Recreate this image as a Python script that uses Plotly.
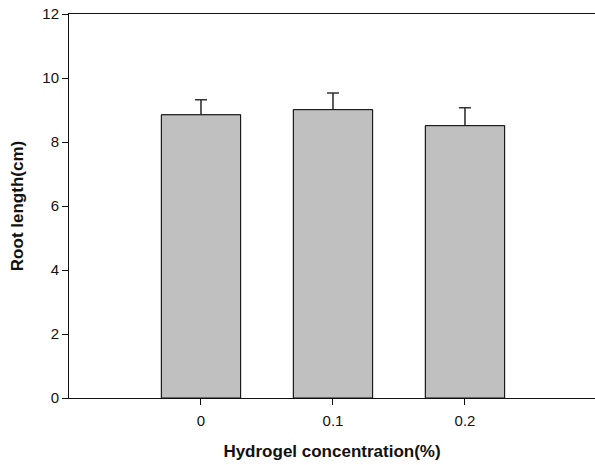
import plotly.graph_objects as go

# Root length by hydrogel concentration
concentrations = [0, 0.1, 0.2]
tick_labels = ["0", "0.1", "0.2"]
root_length = [8.85, 9.01, 8.51]
root_length_err = [0.47, 0.52, 0.56]

font_family = "Liberation Sans, Arial, sans-serif"
bar_style = dict(color="#c0c0c0", line=dict(color="#111111", width=1))

fig = go.Figure()

# Bars carrying the error bars
fig.add_trace(
    go.Bar(
        x=concentrations,
        y=root_length,
        width=0.06,
        marker=bar_style,
        error_y=dict(
            type="data",
            array=root_length_err,
            color="#333333",
            thickness=1.6,
            width=6,
        ),
    )
)
# Same bars drawn again on top so only the upper whisker shows
fig.add_trace(
    go.Bar(
        x=concentrations,
        y=root_length,
        width=0.06,
        marker=bar_style,
        hoverinfo="skip",
    )
)

fig.update_layout(
    width=595,
    height=465,
    barmode="overlay",
    margin=dict(l=69, r=0, t=14, b=67),
    plot_bgcolor="white",
    paper_bgcolor="white",
    showlegend=False,
    font=dict(family=font_family, size=15, color="#111111"),
)

fig.update_xaxes(
    range=[-0.1, 0.2985],
    tickvals=concentrations,
    ticktext=tick_labels,
    ticks="outside",
    ticklen=6,
    tickcolor="#111111",
    ticklabelstandoff=3,
    showline=True,
    linecolor="#111111",
    linewidth=1,
    mirror=True,
    showgrid=False,
    zeroline=False,
    tickfont=dict(size=15),
    title=dict(
        text="<b>Hydrogel concentration(%)</b>",
        font=dict(size=17),
        standoff=17,
    ),
)

fig.update_yaxes(
    range=[0, 12],
    tickvals=[0, 2, 4, 6, 8, 10, 12],
    ticks="outside",
    ticklen=6,
    tickcolor="#111111",
    showline=True,
    linecolor="#111111",
    linewidth=1,
    showgrid=False,
    zeroline=False,
    tickfont=dict(size=15),
    title=dict(
        text="<b>Root length(cm)</b>",
        font=dict(size=17),
        standoff=14,
    ),
)

fig.write_html("out.html")
